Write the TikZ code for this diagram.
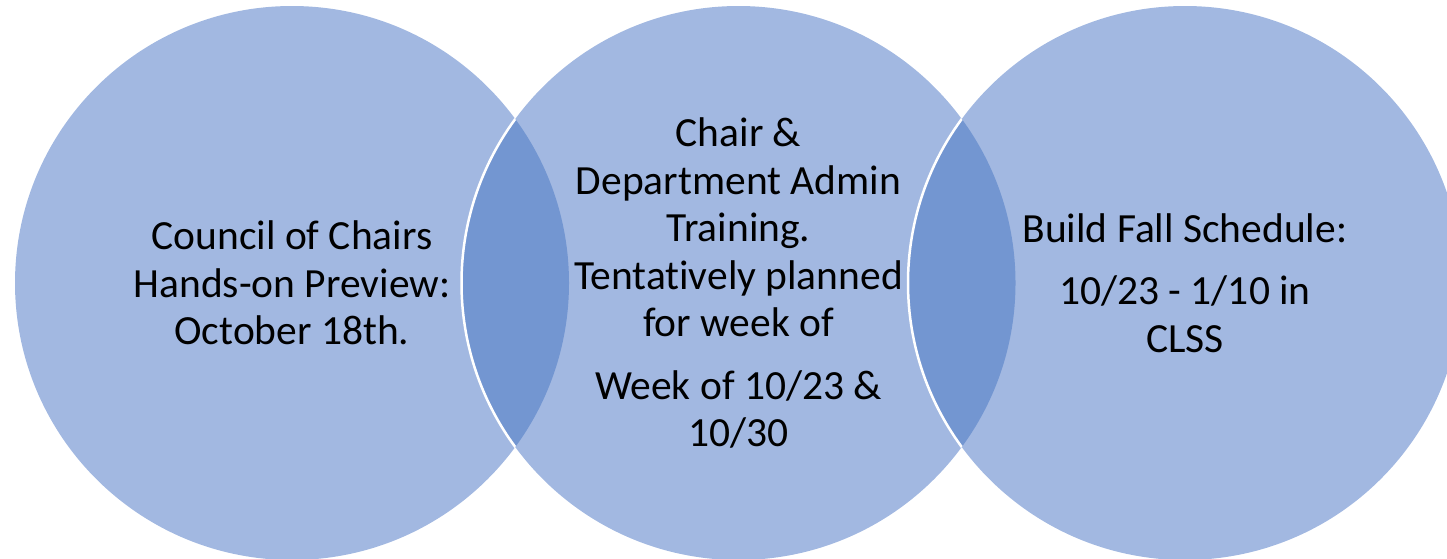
\documentclass[tikz,border=0pt]{standalone}
\usepackage{fontspec}
\setmainfont{Carlito}[Ligatures=NoCommon]
\definecolor{setblue}{HTML}{A2B8E1}
\definecolor{lensblue}{HTML}{7396D1}

\begin{document}
\begin{tikzpicture}[x=1pt,y=-1pt,
 txt/.style={align=center,font=\fontsize{41.5}{47.5}\selectfont,inner sep=0pt}]
 \useasboundingbox (0,0) rectangle (1447,558);

 \coordinate (0) at (292,283);
 \coordinate (1) at (738.5,283);
 \coordinate (2) at (1185,283);

 \fill[setblue] (0) circle (277pt);
 \fill[setblue] (1) circle (277pt);
 \fill[setblue] (2) circle (277pt);

% overlaps
 \begin{scope}
  \clip (0) circle (277pt);
  \fill[lensblue] (1) circle (277pt);
  \draw[white,line width=2.5pt] (1) circle (277pt);
 \end{scope}
 \begin{scope}
  \clip (1) circle (277pt);
  \fill[lensblue] (2) circle (277pt);
  \draw[white,line width=2.5pt] (2) circle (277pt);
 \end{scope}

 \node[txt](3) at (0){Council of Chairs\\Hands-on Preview:\\October 18th.};
 \node[txt](4) at (1){Chair \&\\Department Admin\\Training.\\Tentatively planned\\for week of\\[15pt]Week of 10/23 \&\\10/30};
 \node[txt](5) at (2){Build Fall Schedule:\\[15pt]10/23 - 1/10 in\\CLSS};

\end{tikzpicture}
\end{document}
